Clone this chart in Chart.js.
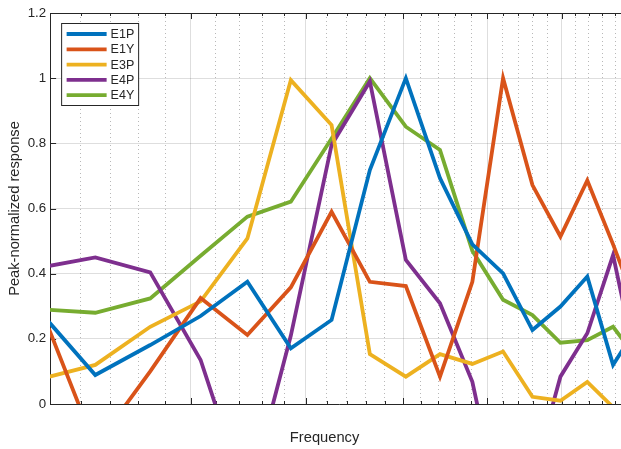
<!DOCTYPE html>
<html>
<head>
<meta charset="utf-8">
<script src="https://cdn.jsdelivr.net/npm/chart.js@4"></script>
<style>
html, body { margin: 0; padding: 0; background: #fff; overflow: hidden; }
#wrap { position: relative; width: 660px; height: 449px; }
</style>
</head>
<body>
<div id="wrap"><canvas id="chart"></canvas></div>
<script>
// frequency bins (x), the first and last fall just outside the visible axis
const freq = [3.906, 4.297, 4.688, 5.078, 5.469, 5.859, 6.250, 6.641, 7.031, 7.422, 7.813, 8.203, 8.594, 8.984, 9.375, 9.766, 10.156];

const e1p = [0.30, 0.089, 0.181, 0.27, 0.375, 0.171, 0.258, 0.718, 1.0, 0.693, 0.49, 0.401, 0.227, 0.299, 0.391, 0.12, 0.24];
const e1y = [0.338, -0.13, 0.10, 0.325, 0.212, 0.358, 0.59, 0.375, 0.362, 0.084, 0.375, 1.0, 0.672, 0.514, 0.686, 0.49, 0.29];
const e3p = [0.073, 0.12, 0.237, 0.315, 0.508, 0.994, 0.856, 0.153, 0.084, 0.153, 0.123, 0.161, 0.022, 0.01, 0.068, -0.01, -0.05];
const e4p = [0.416, 0.45, 0.404, 0.135, -0.30, 0.21, 0.795, 0.99, 0.442, 0.309, 0.068, -0.37, -0.23, 0.084, 0.217, 0.457, 0.10];
const e4y = [0.292, 0.28, 0.324, 0.455, 0.575, 0.621, 0.815, 1.0, 0.851, 0.78, 0.47, 0.32, 0.273, 0.188, 0.196, 0.237, 0.136];

const seriesNames = ['E1P', 'E1Y', 'E3P', 'E4P', 'E4Y'];
const seriesValues = [e1p, e1y, e3p, e4p, e4y];
const seriesColors = ['#0072BD', '#D95319', '#EDB120', '#7E2F8E', '#77AC30'];

// x tick positions (log axis, minor every 0.2)
const xTickValues = [4, 4.2, 4.4, 4.6, 4.8, 5, 5.2, 5.4, 5.6, 5.8, 6, 6.2, 6.4, 6.6, 6.8, 7,
  7.2, 7.4, 7.6, 7.8, 8, 8.2, 8.4, 8.6, 8.8, 9, 9.2, 9.4, 9.6, 9.8, 10];

const textColor = '#262626';
const fontFamily = '"Liberation Sans", Arial, Helvetica, sans-serif';

function isMajor(v) {
  return Math.abs(v - Math.round(v)) < 1e-6;
}

const axesDecor = {
  id: 'axesDecor',
  beforeDatasetsDraw(chart) {
    const { ctx, chartArea: a, scales: { x, y } } = chart;
    ctx.save();
    ctx.strokeStyle = textColor;
    ctx.lineWidth = 1;
    ctx.beginPath();
    ctx.moveTo(a.left, a.top + 0.5);
    ctx.lineTo(a.right, a.top + 0.5);
    x.ticks.forEach(t => {
      const px = Math.round(x.getPixelForValue(t.value)) + 0.5;
      const len = isMajor(t.value) ? 6 : 3;
      ctx.moveTo(px, a.bottom);
      ctx.lineTo(px, a.bottom - len);
      ctx.moveTo(px, a.top);
      ctx.lineTo(px, a.top + len);
    });
    y.ticks.forEach(t => {
      const py = Math.round(y.getPixelForValue(t.value)) + 0.5;
      ctx.moveTo(a.left, py);
      ctx.lineTo(a.left + 6, py);
    });
    ctx.stroke();
    ctx.restore();
  },
  afterDraw(chart) {
    const { ctx, chartArea: a } = chart;
    ctx.save();
    // legend box
    const bx = a.left + 11.5, by = a.top + 10.5, bw = 77, bh = 82;
    ctx.fillStyle = '#fff';
    ctx.fillRect(bx, by, bw, bh);
    ctx.strokeStyle = textColor;
    ctx.lineWidth = 1;
    ctx.strokeRect(bx, by, bw, bh);
    ctx.font = '12.5px ' + fontFamily;
    ctx.textBaseline = 'middle';
    ctx.textAlign = 'left';
    chart.data.datasets.forEach((ds, i) => {
      const ry = by + 10.5 + i * 15.3;
      ctx.strokeStyle = ds.borderColor;
      ctx.lineWidth = 3.8;
      ctx.beginPath();
      ctx.moveTo(bx + 5, ry);
      ctx.lineTo(bx + 45, ry);
      ctx.stroke();
      ctx.fillStyle = textColor;
      ctx.fillText(ds.label, bx + 49, ry + 0.5);
    });
    // x axis label
    ctx.font = '14.7px ' + fontFamily;
    ctx.textAlign = 'center';
    ctx.fillStyle = textColor;
    ctx.fillText('Frequency', (a.left + a.right) / 2 - 14.5, a.bottom + 34);
    ctx.restore();
  }
};

new Chart(document.getElementById('chart'), {
  type: 'line',
  data: {
    datasets: seriesNames.map((name, i) => ({
      label: name,
      data: freq.map((f, j) => ({ x: f, y: seriesValues[i][j] })),
      borderColor: seriesColors[i],
      backgroundColor: seriesColors[i],
      borderWidth: 3.8,
      pointRadius: 0,
      tension: 0,
      fill: false,
      clip: 0
    }))
  },
  options: {
    responsive: true,
    maintainAspectRatio: false,
    animation: false,
    layout: { padding: { left: 0, top: 13, right: 32, bottom: 45 } },
    plugins: { legend: { display: false }, tooltip: { enabled: false } },
    scales: {
      x: {
        type: 'logarithmic',
        min: 4,
        max: 10,
        afterBuildTicks: scale => { scale.ticks = xTickValues.map(v => ({ value: v })); },
        ticks: { display: false },
        grid: {
          drawTicks: false,
          color: c => isMajor(c.tick ? c.tick.value : 0) ? 'rgba(0,0,0,0.13)' : 'rgba(0,0,0,0.28)',
          lineWidth: 1
        },
        border: {
          color: textColor,
          width: 1,
          dash: c => (c.tick && !isMajor(c.tick.value)) ? [1, 3] : []
        }
      },
      y: {
        min: 0,
        max: 1.2,
        ticks: {
          stepSize: 0.2,
          padding: 4,
          color: textColor,
          font: { family: fontFamily, size: 13.3 },
          callback: v => String(Number(v.toFixed(1)))
        },
        grid: { drawTicks: false, color: 'rgba(0,0,0,0.13)', lineWidth: 1 },
        border: { color: textColor, width: 1 },
        title: {
          display: true,
          text: 'Peak-normalized response',
          color: textColor,
          font: { family: fontFamily, size: 14.7 },
          padding: { top: 6, bottom: 0 }
        }
      }
    }
  },
  plugins: [axesDecor]
});
</script>
</body>
</html>
